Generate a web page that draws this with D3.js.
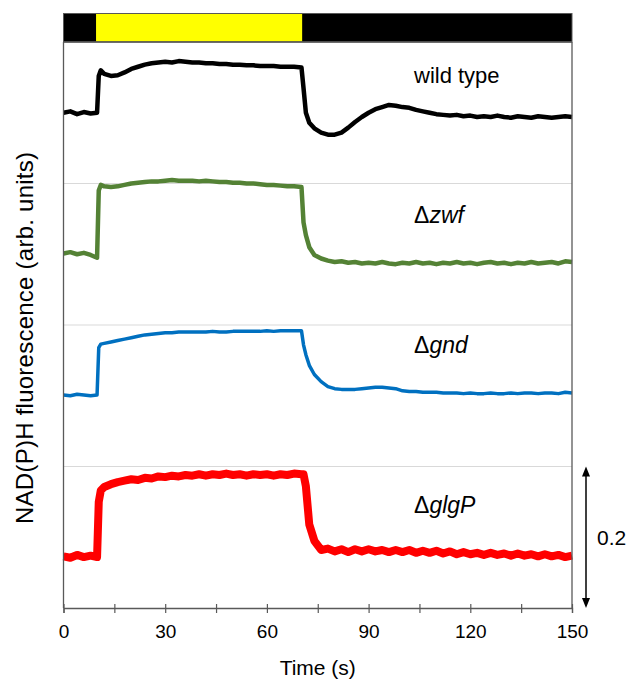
<!DOCTYPE html>
<html>
<head>
<meta charset="utf-8">
<script src="https://cdn.jsdelivr.net/npm/d3@7"></script>
<style>
  body { margin: 0; padding: 0; background: #fff; }
  text { font-family: "Liberation Sans", Arial, sans-serif; fill: #000; }
</style>
</head>
<body>
<div id="main"></div>
<script>
// time points (s), shared by all traces
const times = [0,2,4,6,8,9.9,10.4,11,12,14,16,18,20,22,24,26,28,30,32,34,36,38,40,42,44,46,48,50,52,54,56,58,60,62,64,66,68,
  70.2,70.8,71.5,72.5,74,76,78,80,82,84,86,88,90,92,94,96,98,100,102,104,106,108,110,112,114,116,118,120,122,124,126,128,130,
  132,134,136,138,140,142,144,146,148,150];

// traces, stacked offsets already included (arb. units)
const wildType = [0.700,0.702,0.698,0.701,0.699,0.700,0.752,0.760,0.755,0.752,0.753,0.757,0.762,0.765,0.768,0.770,0.771,0.772,
  0.771,0.773,0.772,0.771,0.771,0.770,0.770,0.769,0.769,0.768,0.768,0.767,0.767,0.766,0.766,0.766,0.765,0.765,0.765,
  0.764,0.735,0.700,0.686,0.678,0.672,0.669,0.669,0.672,0.679,0.687,0.694,0.700,0.705,0.708,0.711,0.710,0.708,0.707,0.704,
  0.702,0.700,0.698,0.697,0.696,0.697,0.695,0.696,0.694,0.695,0.694,0.696,0.694,0.693,0.695,0.694,0.693,0.695,0.694,0.693,
  0.694,0.695,0.694];
const zwf = [0.501,0.503,0.500,0.502,0.499,0.495,0.590,0.598,0.596,0.595,0.596,0.598,0.600,0.601,0.602,0.603,0.603,0.604,
  0.605,0.604,0.604,0.604,0.603,0.604,0.603,0.602,0.602,0.601,0.601,0.600,0.600,0.599,0.598,0.598,0.597,0.596,0.596,
  0.595,0.545,0.527,0.510,0.499,0.494,0.491,0.489,0.490,0.488,0.489,0.487,0.488,0.487,0.489,0.487,0.486,0.488,0.487,0.489,
  0.487,0.488,0.486,0.488,0.487,0.489,0.487,0.488,0.486,0.488,0.489,0.487,0.488,0.486,0.488,0.487,0.489,0.487,0.488,0.489,
  0.487,0.490,0.489];
const gnd = [0.301,0.300,0.302,0.301,0.300,0.301,0.368,0.373,0.374,0.376,0.378,0.380,0.382,0.384,0.386,0.387,0.388,0.389,
  0.389,0.390,0.390,0.390,0.390,0.390,0.391,0.390,0.390,0.391,0.391,0.391,0.391,0.391,0.392,0.391,0.392,0.392,0.392,
  0.392,0.372,0.358,0.343,0.330,0.320,0.313,0.310,0.309,0.309,0.309,0.310,0.311,0.312,0.312,0.311,0.310,0.307,0.306,0.306,
  0.305,0.305,0.305,0.304,0.304,0.304,0.303,0.304,0.303,0.303,0.304,0.303,0.303,0.304,0.303,0.304,0.304,0.303,0.304,0.304,
  0.303,0.305,0.304];
const glgP = [0.073,0.071,0.075,0.072,0.074,0.072,0.150,0.166,0.171,0.175,0.178,0.180,0.182,0.181,0.184,0.183,0.186,0.185,
  0.187,0.186,0.188,0.187,0.189,0.187,0.189,0.188,0.190,0.188,0.189,0.187,0.189,0.188,0.189,0.187,0.189,0.188,0.190,
  0.189,0.189,0.172,0.118,0.095,0.082,0.084,0.080,0.083,0.079,0.083,0.080,0.083,0.080,0.082,0.079,0.082,0.079,0.082,0.078,
  0.081,0.078,0.081,0.077,0.080,0.076,0.079,0.076,0.078,0.075,0.078,0.075,0.077,0.074,0.077,0.074,0.076,0.073,0.076,0.073,
  0.075,0.072,0.074];

const seriesNames = ['wild type', 'zwf', 'gnd', 'glgP'];
const seriesColors = ['#000000', '#548235', '#0070c0', '#ff0000'];
const seriesWidths = [4.5, 4.5, 3.5, 8];
const labelValues = [0.753, 0.556, 0.372, 0.146];
const gridValues = [0.2, 0.4, 0.6];
const xTicks = [0,15,30,45,60,75,90,105,120,135,150];
const lightPeriod = [9.6, 70.4];
const scaleBarValue = 0.2;

const W = 629, H = 684;
const svg = d3.select('#main').append('svg').attr('width', W).attr('height', H);

const x = d3.scaleLinear().domain([0, 150]).range([63.5, 572]);
const y = d3.scaleLinear().domain([0, 0.8]).range([608, 42]);
const frameColor = '#595959';

// light bar
const barTop = 13.5, barBottom = 42;
svg.append('rect').attr('x', x(0)).attr('y', barTop).attr('width', x(150) - x(0)).attr('height', barBottom - barTop)
  .attr('fill', '#000').attr('stroke', frameColor).attr('stroke-width', 1);
svg.append('rect').attr('x', x(lightPeriod[0])).attr('y', barTop + 0.5)
  .attr('width', x(lightPeriod[1]) - x(lightPeriod[0])).attr('height', barBottom - barTop - 1)
  .attr('fill', '#ffff00');

// grid
svg.append('g').selectAll('line').data(gridValues).enter().append('line')
  .attr('x1', x(0)).attr('x2', x(150)).attr('y1', d => y(d)).attr('y2', d => y(d))
  .attr('stroke', '#d9d9d9').attr('stroke-width', 1);

// traces
const traces = [wildType, zwf, gnd, glgP];
const line = d3.line().x((d, i) => x(times[i])).y(d => y(d));
svg.append('g').selectAll('path').data(traces).enter().append('path')
  .attr('d', d => line(d))
  .attr('fill', 'none')
  .attr('stroke', (d, i) => seriesColors[i])
  .attr('stroke-width', (d, i) => seriesWidths[i])
  .attr('stroke-linejoin', 'round');

// frame
svg.append('line').attr('x1', x(0)).attr('x2', x(0)).attr('y1', y(0.8)).attr('y2', y(0)).attr('stroke', frameColor).attr('stroke-width', 1.3);
svg.append('line').attr('x1', x(150)).attr('x2', x(150)).attr('y1', y(0.8)).attr('y2', y(0)).attr('stroke', frameColor).attr('stroke-width', 1.3);
svg.append('line').attr('x1', x(0)).attr('x2', x(150)).attr('y1', y(0.8)).attr('y2', y(0.8)).attr('stroke', frameColor).attr('stroke-width', 1.3);

// x axis
const axisX = d3.axisBottom(x).tickValues(xTicks).tickFormat(d => d % 30 === 0 ? d : '').tickSizeOuter(0).tickSize(5);
const gx = svg.append('g').attr('transform', `translate(0, ${y(0)})`).call(axisX);
gx.select('.domain').attr('stroke', frameColor).attr('stroke-width', 1.3);
gx.selectAll('.tick line').attr('y1', -4).attr('y2', 5).attr('stroke', frameColor).attr('stroke-width', 1.2);
gx.selectAll('.tick text').attr('y', 17).attr('dy', '0.71em').style('font-size', '19px')
  .style('font-family', '"Liberation Sans", Arial, sans-serif').attr('fill', '#000');

svg.append('text').attr('x', (x(0) + x(150)) / 2).attr('y', 675).attr('text-anchor', 'middle')
  .style('font-size', '21px').text('Time (s)');
svg.append('text').attr('transform', 'translate(33, 338) rotate(-90)').attr('text-anchor', 'middle')
  .attr('textLength', 372).attr('lengthAdjust', 'spacing')
  .style('font-size', '24px').text('NAD(P)H fluorescence (arb. units)');

// trace labels
const labels = svg.append('g');
seriesNames.forEach((name, i) => {
  const t = labels.append('text').attr('x', 414).attr('y', y(labelValues[i])).attr('dy', '0.35em')
    .style('font-size', i === 0 ? '22px' : '23px');
  if (i === 0) {
    t.text(name);
  } else {
    t.append('tspan').text('\u0394');
    t.append('tspan').style('font-style', 'italic').text(name);
  }
});

// scale bar
const sx = 586;
const y0 = y(0), y1 = y(scaleBarValue);
svg.append('line').attr('x1', sx).attr('x2', sx).attr('y1', y1 + 6).attr('y2', y0 - 6).attr('stroke', '#000').attr('stroke-width', 1.5);
svg.append('path').attr('d', `M${sx},${y1} L${sx - 4},${y1 + 10} L${sx + 4},${y1 + 10} Z`).attr('fill', '#000');
svg.append('path').attr('d', `M${sx},${y0} L${sx - 4},${y0 - 10} L${sx + 4},${y0 - 10} Z`).attr('fill', '#000');
svg.append('text').attr('x', 597).attr('y', (y0 + y1) / 2).attr('dy', '0.35em').style('font-size', '21px').text(scaleBarValue);
</script>
</body>
</html>
